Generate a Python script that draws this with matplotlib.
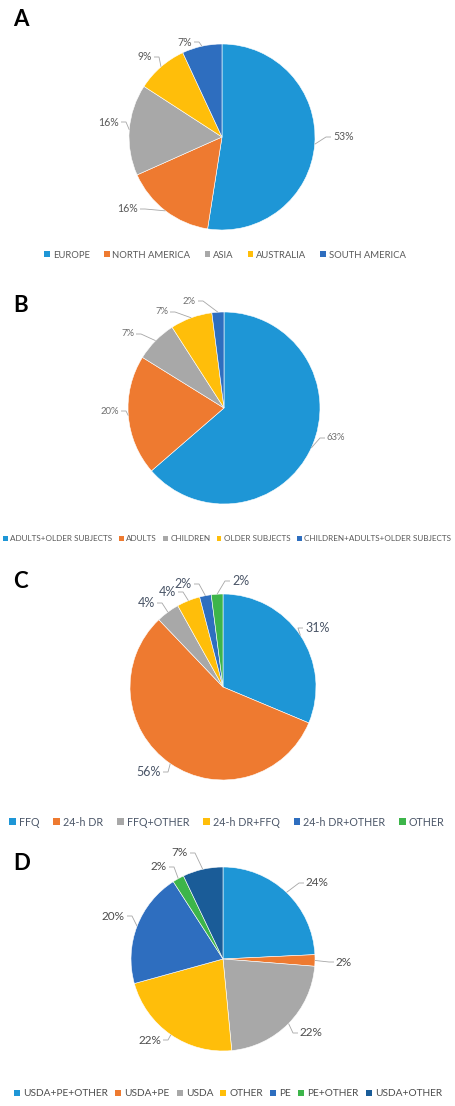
import matplotlib
matplotlib.use("Agg")
import matplotlib.pyplot as plt
from matplotlib.patches import Patch
import numpy as np

W, H = 456, 1106

# ---- data ----
regions = ["EUROPE", "NORTH AMERICA", "ASIA", "AUSTRALIA", "SOUTH AMERICA"]
region_pct = [53, 16, 16, 9, 7]

populations = ["ADULTS+OLDER SUBJECTS", "ADULTS", "CHILDREN", "OLDER SUBJECTS",
               "CHILDREN+ADULTS+OLDER SUBJECTS"]
population_pct = [63, 20, 7, 7, 2]

methods = ["FFQ", "24-h DR", "FFQ+OTHER", "24-h DR+FFQ", "24-h DR+OTHER", "OTHER"]
method_pct = [31, 56, 4, 4, 2, 2]

databases = ["USDA+PE+OTHER", "USDA+PE", "USDA", "OTHER", "PE", "PE+OTHER", "USDA+OTHER"]
database_pct = [24, 2, 22, 22, 20, 2, 7]

# ---- palette ----
BLUE, ORANGE, GRAY, YELLOW = "#1E96D6", "#EE7A30", "#A8A8A8", "#FFBE0A"
MIDBLUE, GREEN, NAVY = "#2E6EBF", "#3DB54A", "#1A5C98"

panels = [
    dict(letter="A", names=regions, values=region_pct,
         colors=[BLUE, ORANGE, GRAY, YELLOW, MIDBLUE],
         center=(222, 137), radius=93, letter_y=20,
         label_xy=[(333, 137), (138, 209), (119, 122), (152, 57), (192, 42)],
         label_size=7.6, label_color="#595959",
         legend_y=255, legend_x=225, legend_size=6.8, legend_color="#595959",
         colspace=1.5),
    dict(letter="B", names=populations, values=population_pct,
         colors=[BLUE, ORANGE, GRAY, YELLOW, MIDBLUE],
         center=(224, 408), radius=96, letter_y=305,
         label_xy=[(327, 438), (119, 411), (134, 334), (168, 312), (196, 301)],
         label_size=6.8, label_color="#6F6F6F",
         legend_y=539, legend_x=227, legend_size=5.9, legend_color="#595959",
         colspace=0.75),
    dict(letter="C", names=methods, values=method_pct,
         colors=[BLUE, ORANGE, GRAY, YELLOW, MIDBLUE, GREEN],
         center=(223, 687), radius=93, letter_y=581,
         label_xy=[(305, 628), (161, 772), (155, 603), (176, 592), (192, 584), (232, 581)],
         label_size=9.0, label_color="#4A5567",
         legend_y=822, legend_x=227, legend_size=7.7, legend_color="#4A5567",
         colspace=1.3),
    dict(letter="D", names=databases, values=database_pct,
         colors=[BLUE, ORANGE, GRAY, YELLOW, MIDBLUE, GREEN, NAVY],
         center=(223, 959), radius=92, letter_y=864,
         label_xy=[(306, 883), (336, 962), (300, 1033), (161, 1040), (125, 916),
                   (167, 867), (188, 853)],
         label_size=8.5, label_color="#4D4D4D",
         legend_y=1094, legend_x=228, legend_size=7.3, legend_color="#4D4D4D",
         colspace=0.7),
]

plt.rcParams["font.family"] = ["Lato", "DejaVu Sans"]

fig = plt.figure(figsize=(W / 100, H / 100), dpi=100)
ax = fig.add_axes([0, 0, 1, 1])

for p in panels:
    cx, cy = p["center"]
    r = p["radius"]
    wedges, _ = ax.pie(p["values"], colors=p["colors"], startangle=90,
                       counterclock=False, center=(cx, H - cy), radius=r,
                       frame=True,
                       wedgeprops=dict(linewidth=0.4, edgecolor="white"))

    # percentage labels with leader lines
    for w, val, (tx, ty) in zip(wedges, p["values"], p["label_xy"]):
        mid = np.deg2rad((w.theta1 + w.theta2) / 2)
        ex, ey = cx + r * np.cos(mid), (H - cy) + r * np.sin(mid)
        ty_d = H - ty
        side = 1 if tx > ex else -1
        ha = "left" if side > 0 else "right"
        ax.plot([ex, tx - side * 7, tx - side * 2], [ey, ty_d, ty_d],
                color="#A6A6A6", lw=0.6, solid_capstyle="butt")
        ax.text(tx, ty_d, f"{val}%", ha=ha, va="center",
                fontsize=p["label_size"], color=p["label_color"])

    # panel letter
    fig.text(13 / W, 1 - p["letter_y"] / H, p["letter"], ha="left", va="center",
             fontsize=16, fontweight="bold", color="black")

    handles = [Patch(facecolor=c, edgecolor="none") for c in p["colors"]]
    leg = fig.legend(handles, p["names"], loc="center",
                     bbox_to_anchor=(p["legend_x"] / W, 1 - p["legend_y"] / H),
                     ncol=len(p["names"]), frameon=False,
                     fontsize=p["legend_size"], handlelength=0.6, handleheight=0.6,
                     handletextpad=0.3, columnspacing=p["colspace"], borderpad=0,
                     borderaxespad=0)
    for t in leg.get_texts():
        t.set_color(p["legend_color"])

ax.set_xlim(0, W)
ax.set_ylim(0, H)
ax.set_aspect("equal")
ax.axis("off")

fig.savefig("out.png", dpi=100, facecolor="white")
